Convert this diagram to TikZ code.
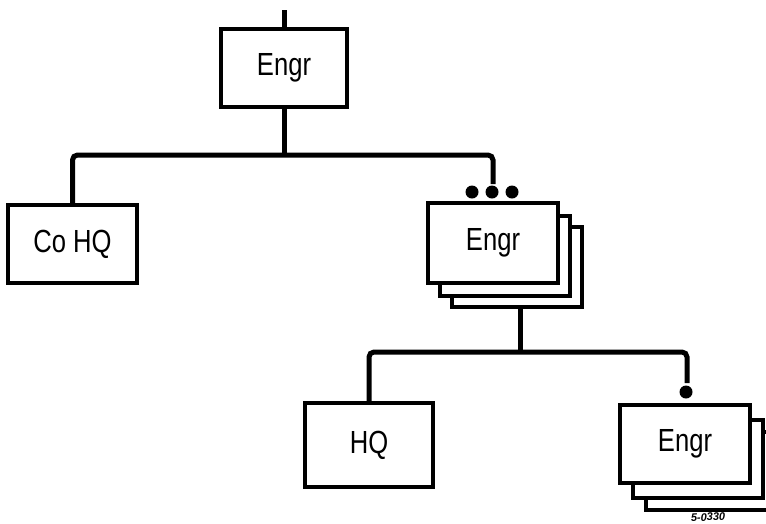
\documentclass[tikz,border=0pt]{standalone}
\usepackage{fontspec}
\setmainfont{Liberation Sans}
\begin{document}
\begin{tikzpicture}[x=1pt,y=-1pt,
  unit/.style={draw,line width=3.5pt,fill=white,inner sep=0pt,font=\fontsize{32}{34}\selectfont},
  conn/.style={line width=5pt,rounded corners=5pt},
  dot/.style={circle,fill=black,inner sep=0pt,minimum size=13pt}]
\useasboundingbox[fill=white] (0,0) rectangle (766,523);
\newcommand{\lbl}[1]{\scalebox{0.8}[1]{#1}}
% top
\coordinate (topin) at (284,10);
\node[unit,minimum width=126pt,minimum height=78pt] (top) at (284,68) {\lbl{Engr}};
\draw[conn] (topin) -- (top.north);
% Co HQ
\node[unit,minimum width=129pt,minimum height=78pt] (cohq) at (72.5,244) {\lbl{Co HQ}};
% Engr stack 2
\node[unit,minimum width=130pt,minimum height=80pt] (e2c) at (517,267) {};
\node[unit,minimum width=130pt,minimum height=80pt] (e2b) at (505,256) {};
\node[unit,minimum width=130pt,minimum height=80pt] (e2) at (493,243) {\lbl{Engr}};
\coordinate (e2in) at (493,184);
\node[dot] (d1) at (472,192) {};
\node[dot] (d2) at (492,192) {};
\node[dot] (d3) at (512,192) {};
\coordinate (junc1) at (284,155);
\draw[conn] (top.south) -- (junc1);
\draw[conn] (cohq.north) |- (junc1) -| (e2in);
% HQ
\node[unit,minimum width=128pt,minimum height=84pt] (hq) at (369,445) {\lbl{HQ}};
% Engr stack 3
\node[unit,minimum width=130pt,minimum height=78pt] (e3c) at (711,471) {};
\node[unit,minimum width=130pt,minimum height=78pt] (e3b) at (698,459) {};
\node[unit,minimum width=130pt,minimum height=78pt] (e3) at (685,444) {\lbl{Engr}};
\coordinate (e3in) at (687,383);
\node[dot] (d4) at (686,392) {};
\coordinate (junc2) at (520,352);
\draw[conn] (e2c.south -| junc2) -- (junc2);
\draw[conn] (hq.north) |- (junc2) -| (e3in);
% label
\node[font=\fontsize{11}{12}\selectfont\bfseries\itshape,rotate=2] (code) at (708,517) {5-0330};
\end{tikzpicture}
\end{document}
